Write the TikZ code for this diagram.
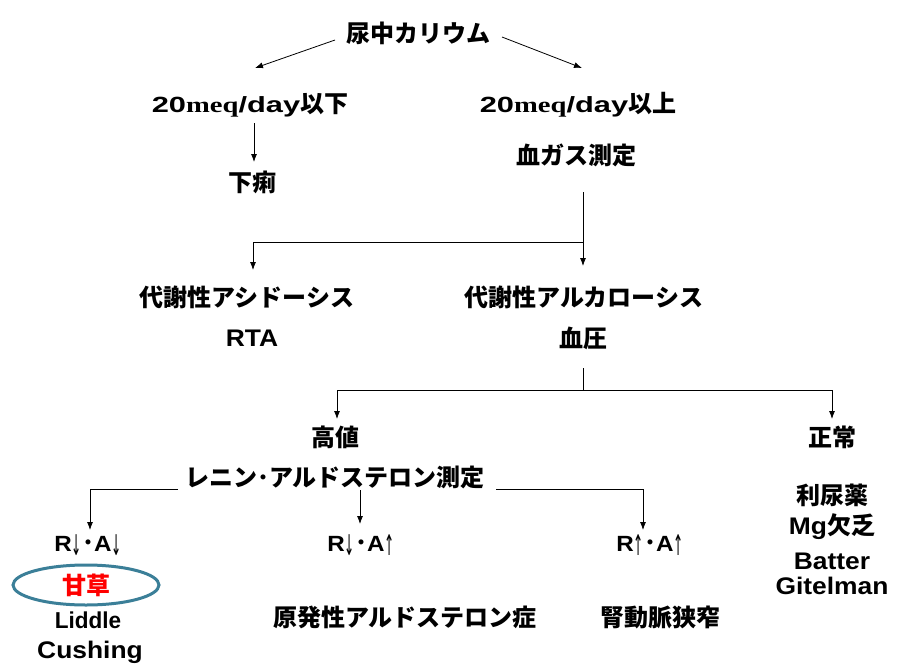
\documentclass[tikz,border=0pt]{standalone}
\usepackage{fontspec}
\setmainfont{Noto Sans CJK JP}
\newfontfamily\wide{Liberation Sans}[FakeStretch=1.1]
\newfontfamily\widex{Liberation Sans}[FakeStretch=1.4]
\newfontfamily\widel{Liberation Sans}[FakeStretch=0.98]
\newfontfamily\serifm{Liberation Serif}[FakeStretch=1.3]
\newfontfamily\arrf{DejaVu Sans}
\usetikzlibrary{arrows.meta,shapes.geometric}
\definecolor{ellc}{HTML}{3B7F98}
\tikzset{
  lbl/.style={inner sep=0pt, font=\fontsize{24}{26}\selectfont\bfseries},
  lat/.style={inner sep=0pt, font=\fontsize{24}{26}\selectfont\wide\bfseries},
  arr/.style={-{Latex[length=8pt,width=6pt]}, line width=0.8pt},
  ln/.style={line width=0.8pt},
}
\newcommand{\mdt}{{\normalfont\fontsize{24}{26}\selectfont\bfseries ･}}
\newcommand{\dn}{\raisebox{-4pt}{\scalebox{0.55}[1.3]{\arrf\mdseries ↓}}}
\newcommand{\up}{\raisebox{-4pt}{\scalebox{0.55}[1.3]{\arrf\mdseries ↑}}}
\newcommand{\meqday}{{\fontsize{22}{24}\selectfont\widex 20\serifm meq\widex /day}}
\begin{document}
\begin{tikzpicture}[x=1pt,y=-1pt]
\useasboundingbox (0,0) rectangle (903,670);
\fill[white] (0,0) rectangle (903,670);
% nodes
\node[lbl] (uk) at (418,33) {尿中カリウム};
\node[lbl] (lo) at (250,105) {\meqday 以下};
\node[lbl] (hi) at (578,105) {\meqday 以上};
\node[lbl] (geri) at (252,182) {下痢};
\node[lbl] (bg) at (576,155) {血ガス測定};
\node[lbl] (acid) at (247,297) {代謝性アシドーシス};
\node[lbl] (alk) at (584,297) {代謝性アルカローシス};
\node[lat] (rta) at (252,338) {RTA};
\node[lbl] (bp) at (583,338) {血圧};
\node[lbl] (high) at (335,437) {高値};
\node[lbl] (norm) at (832,437) {正常};
\node[lbl] (ra) at (335,477) {レニン･アルドステロン測定};
\node[lat, font=\fontsize{22}{24}\selectfont\wide\bfseries] (r1) at (88,545) {R\dn\mdt A\dn};
\node[lat, font=\fontsize{22}{24}\selectfont\wide\bfseries] (r2) at (361,545) {R\dn\mdt A\up};
\node[lat, font=\fontsize{22}{24}\selectfont\wide\bfseries] (r3) at (650,545) {R\up\mdt A\up};
\node[draw=ellc, line width=3pt, ellipse, minimum width=146pt, minimum height=40pt, inner sep=0pt] (ell) at (86,585) {};
\node[lbl, text=red] (kanzo) at (86,585) {甘草};
\node[lat, font=\fontsize{23}{24}\selectfont\widel\bfseries] (lid) at (88,620) {Liddle};
\node[lat] (cus) at (90,652) {Cushing};
\node[lbl] (pa) at (405,617) {原発性アルドステロン症};
\node[lbl] (ras) at (660,617) {腎動脈狭窄};
\node[lbl] (diu) at (832,495) {利尿薬};
\node[lbl] (mg) at (832,527) {{\fontsize{24}{24}\selectfont\wide Mg}欠乏};
\node[lat] (bat) at (832,561) {Batter};
\node[lat] (git) at (832,586) {Gitelman};
% coordinates
\coordinate (a1s) at (335,40); \coordinate (a1e) at (255,68);
\coordinate (a2s) at (502,37); \coordinate (a2e) at (582,68);
\coordinate (b1s) at (254,123); \coordinate (b1e) at (254,162);
\coordinate (c0) at (583,192); \coordinate (c1) at (583,242);
\coordinate (c2) at (253,242);
\coordinate (c1e) at (583,266); \coordinate (c2e) at (253,270);
\coordinate (d0) at (583,368); \coordinate (d1) at (583,390);
\coordinate (d2) at (337,390); \coordinate (d3) at (832,390);
\coordinate (d2e) at (337,419); \coordinate (d3e) at (832,419);
\coordinate (e1) at (178,489); \coordinate (e2) at (90,489); \coordinate (e2e) at (90,530);
\coordinate (e3) at (496,489); \coordinate (e4) at (643,489); \coordinate (e4e) at (643,530);
\coordinate (e5) at (360,490); \coordinate (e5e) at (360,524);
% connectors
\draw[arr] (a1s) -- (a1e);
\draw[arr] (a2s) -- (a2e);
\draw[arr] (b1s) -- (b1e);
\draw[arr] (c0) -- (c1e);
\draw[arr] (c1) -- (c2) -- (c2e);
\draw[ln] (d0) -- (d1);
\draw[arr] (d1) -- (d2) -- (d2e);
\draw[arr] (d1) -- (d3) -- (d3e);
\draw[arr] (e1) -- (e2) -- (e2e);
\draw[arr] (e3) -- (e4) -- (e4e);
\draw[arr] (e5) -- (e5e);
\end{tikzpicture}
\end{document}
